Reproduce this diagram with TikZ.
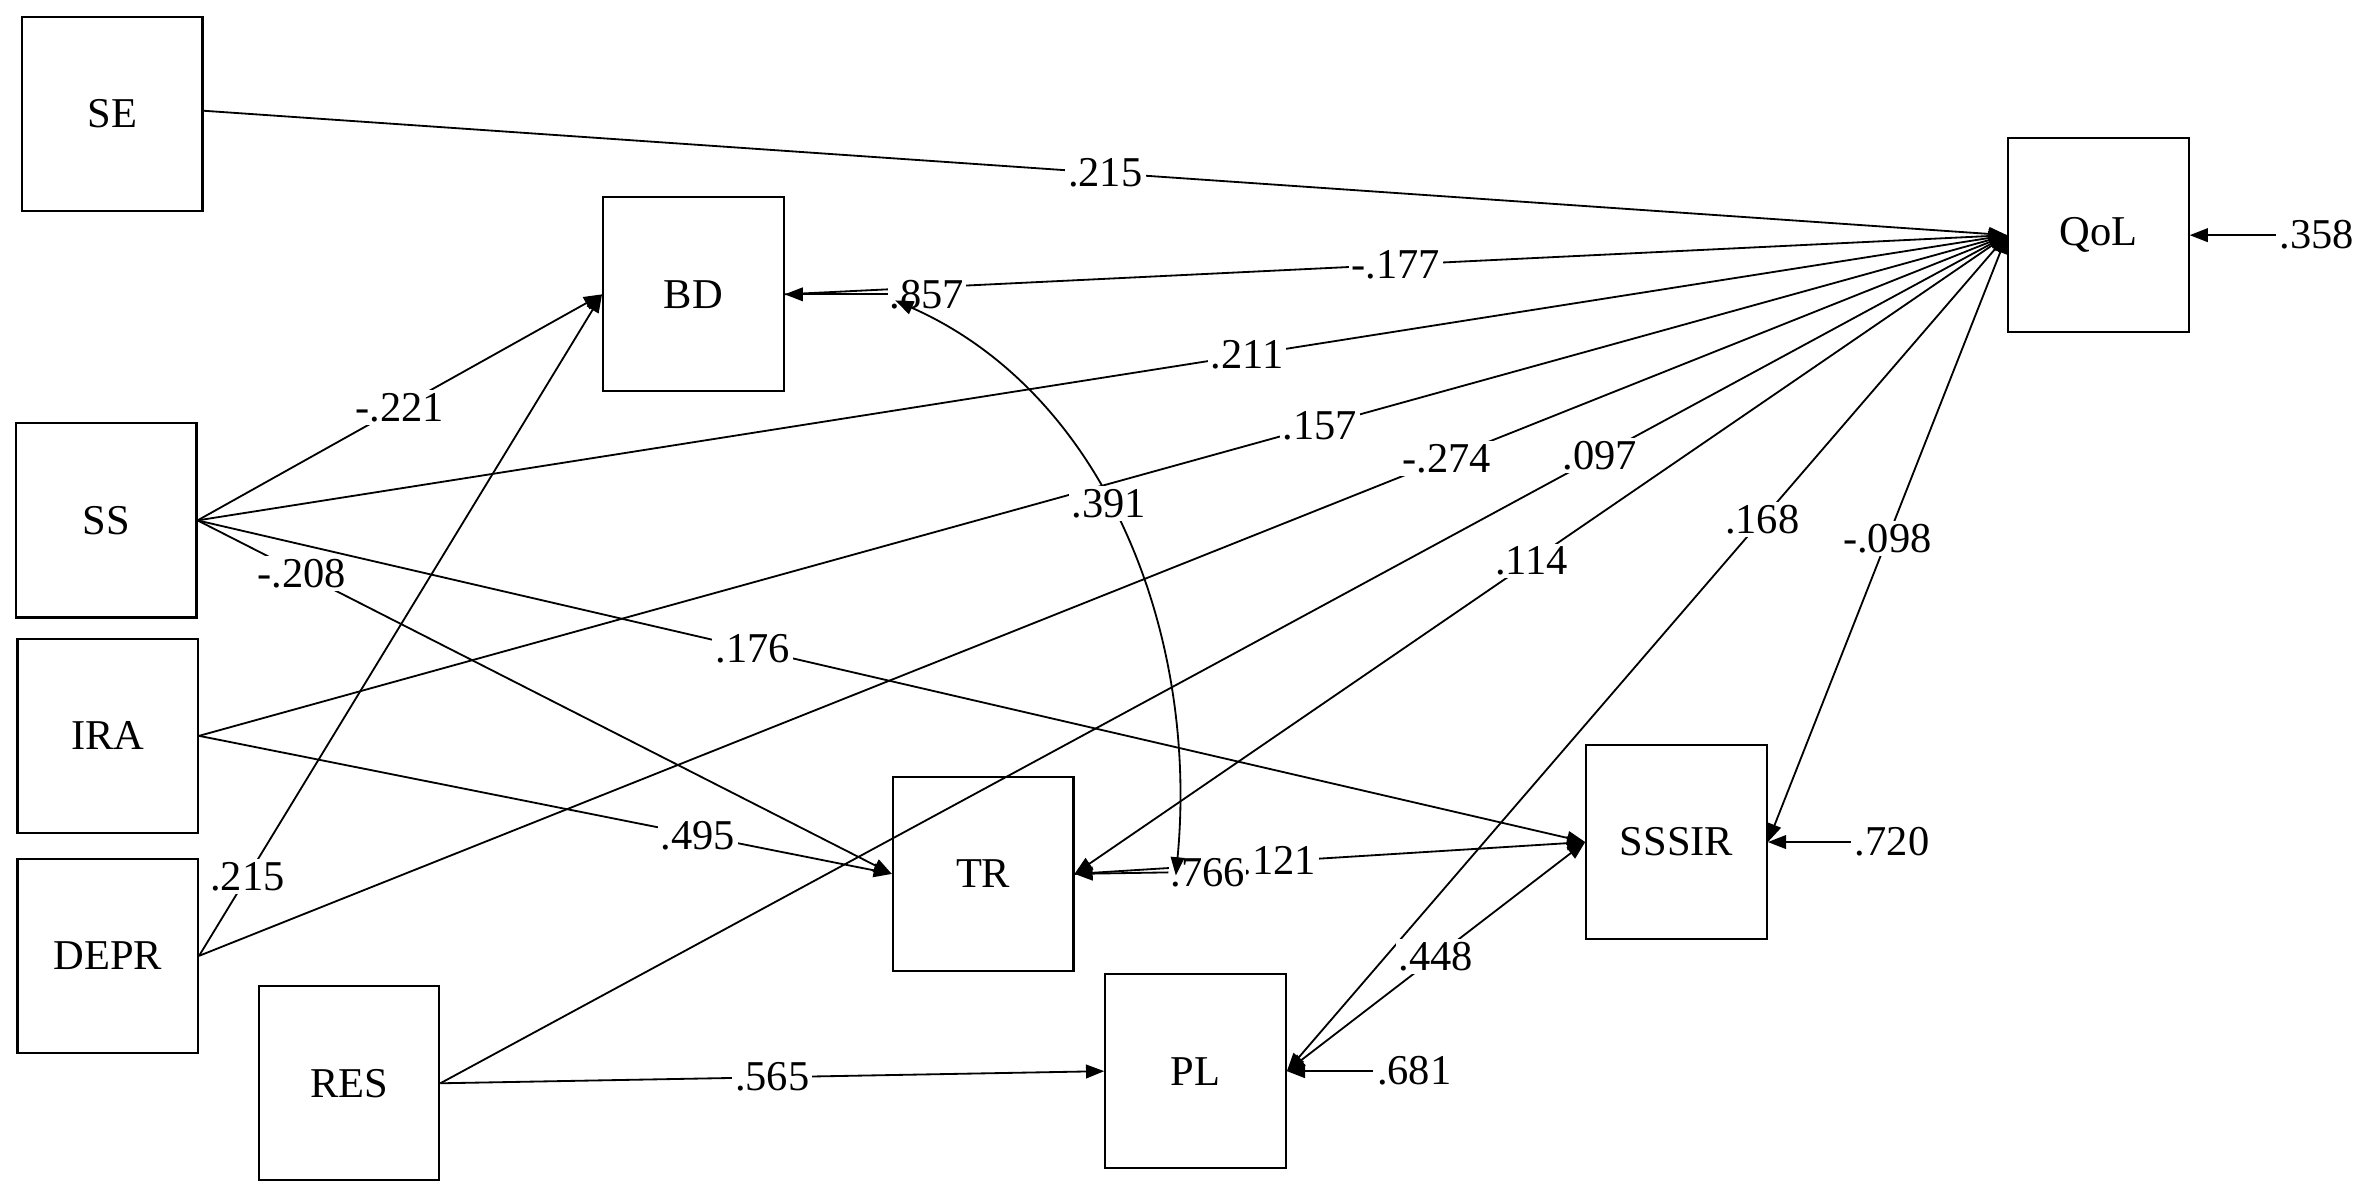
\documentclass[tikz,border=0pt]{standalone}
\usepackage{fontspec}
\setmainfont{Liberation Serif}
\usetikzlibrary{arrows.meta}
\begin{document}
\begin{tikzpicture}[x=0.5pt,y=-0.5pt,
  box/.style={draw,line width=0.7pt,minimum width=59.5pt,minimum height=64pt,inner sep=0pt,font=\fontsize{14}{16}\selectfont},
  ar/.style={line width=0.6pt,-{Triangle[length=6pt,width=4.5pt]}},
  dar/.style={line width=0.6pt,{Triangle[length=6pt,width=4.5pt]}-{Triangle[length=6pt,width=4.5pt]}},
  lab/.style={fill=white,inner sep=1pt,font=\fontsize{14}{16}\selectfont}]
\useasboundingbox (0,0) rectangle (1568,790);
\node[box] (SE) at (74,75) {SE};
\node[box] (BD) at (457,194) {BD};
\node[box] (QoL) at (1383,155) {QoL};
\node[box] (SS) at (70,343) {SS};
\node[box] (IRA) at (71,485) {IRA};
\node[box] (DEPR) at (71,630) {DEPR};
\node[box] (RES) at (230,714) {RES};
\node[box] (TR) at (648,576) {TR};
\node[box] (PL) at (788,706) {PL};
\node[box] (SSSIR) at (1105,555) {SSSIR};
\coordinate (eQ) at (1500,155);
\coordinate (eS) at (1220,555);
\coordinate (eP) at (905,706);
\coordinate (eT) at (770,575);
\coordinate (eB) at (585,194);
\coordinate (cB) at (590,198);
\coordinate (cT) at (775,577);
% paths to QoL
\draw[ar] (SE.east) ++(0,-2) -- node[lab,pos=0.5]{.215} (QoL.west);
\draw[ar] (BD.east) -- node[lab,pos=0.5]{-.177} (QoL.west);
\draw[ar] (SS.east) -- node[lab,pos=0.58]{.211} (QoL.west);
\draw[ar] (IRA.east) -- node[lab,pos=0.62]{.157} (QoL.west);
\draw[ar] (DEPR.east) -- node[lab,pos=0.69]{-.274} (QoL.west);
\draw[dar] (TR.east) -- node[lab,pos=0.49]{.114} (QoL.west);
\draw[ar] (RES.east) -- node[lab,pos=0.74]{.097} (QoL.west);
\draw[dar] (PL.east) -- node[lab,pos=0.66]{.168} (QoL.west);
\draw[dar] (QoL.west) -- node[lab,pos=0.5]{-.098} (SSSIR.east);
% other paths
\draw[ar] (SS.east) -- node[lab,pos=0.5]{-.221} (BD.west);
\draw[ar] (SS.east) -- node[lab,pos=0.15]{-.208} (TR.west);
\draw[ar] (SS.east) -- node[lab,pos=0.4]{.176} (SSSIR.west);
\draw[ar] (IRA.east) -- node[lab,pos=0.72]{.495} (TR.west);
\draw[ar] (DEPR.east) -- node[lab,pos=0.12]{.215} (BD.west);
\draw[ar] (RES.east) -- node[lab,pos=0.5]{.565} (PL.west);
\draw[dar] (PL.east) -- node[lab,pos=0.5]{.448} (SSSIR.west);
\draw[ar] (TR.east) -- node[lab,pos=0.4]{.121} (SSSIR.west);
% residuals
\draw[ar] (eQ) -- (QoL.east) node[lab,pos=0,right]{.358};
\draw[ar] (eS) -- (SSSIR.east) node[lab,pos=0,right]{.720};
\draw[ar] (eP) -- (PL.east) node[lab,pos=0,right]{.681};
\draw[ar] (eT) -- (TR.east);
\node[lab,right,inner sep=0.5pt] at (eT) {.766};
\draw[ar] (eB) -- (BD.east);
\node[lab,right,inner sep=0.5pt] at (eB) {.857};
% covariance
\draw[dar] (cB) .. controls (730,260) and (790,420) .. node[lab,pos=0.45]{.391} (cT);
\end{tikzpicture}
\end{document}
